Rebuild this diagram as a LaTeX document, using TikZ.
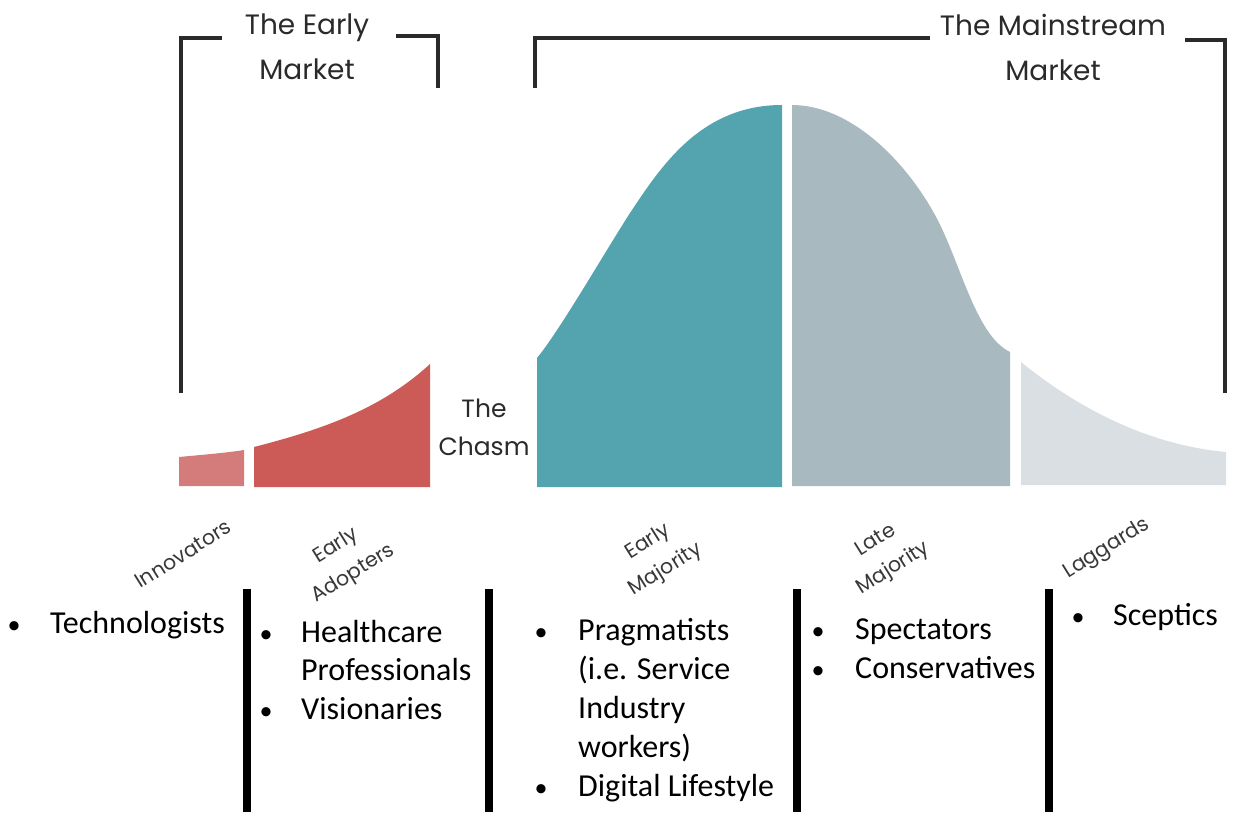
\documentclass[tikz,border=0pt]{standalone}
\usepackage{fontspec}
\setmainfont{Carlito}
\newfontfamily\geo{Poppins}
\definecolor{cInno}{HTML}{D47B7B}
\definecolor{cAdopt}{HTML}{CC5A57}
\definecolor{cEarly}{HTML}{53A4AF}
\definecolor{cLate}{HTML}{A8BABF}
\definecolor{cLag}{HTML}{D9DFE2}
\definecolor{cInk}{HTML}{2A2A2A}
\definecolor{cLbl}{HTML}{383838}
\begin{document}
\begin{tikzpicture}[x=1pt,y=-1pt,
  brk/.style={draw=cInk,line width=4pt},
  sepbar/.style={draw=black,line width=8pt},
  titletext/.style={font=\geo\fontsize{28}{45}\selectfont,text=cInk,align=center,inner sep=0pt},
  chasmtext/.style={font=\geo\fontsize{25}{38}\selectfont,text=cInk,align=center,inner sep=0pt},
  grouplbl/.style={font=\geo\fontsize{20.5}{33}\selectfont,text=cLbl,align=center,rotate=32,inner sep=0pt},
  itemtext/.style={font=\fontsize{32}{38}\selectfont,text=black,anchor=base west,inner sep=0pt},
  bul/.style={font=\fontsize{26}{38}\selectfont,text=black,anchor=base,inner sep=0pt}]
\useasboundingbox (0,0) rectangle (1233,812);
% curve segments
\fill[cInno] (179,486) -- (179,457) .. controls (200,455) and (225,453) .. (244,450) -- (244,486) -- cycle;
\fill[cAdopt] (254,487) -- (254,447) .. controls (320,430) and (380,410) .. (430,364) -- (430,487) -- cycle;
\fill[cEarly] (537,487) -- (537,358) .. controls (560,330) and (603,255) .. (630,213) .. controls (660,168) and (700,105) .. (782,105) -- (782,487) -- cycle;
\fill[cLate] (792,486) -- (792,105) .. controls (850,105) and (905,160) .. (935,215) .. controls (960,260) and (975,335) .. (1010,352) -- (1010,486) -- cycle;
\fill[cLag] (1021,485) -- (1021,362) .. controls (1080,410) and (1150,445) .. (1226,452) -- (1226,485) -- cycle;
% brackets
\draw[brk] (181,393) -- (181,38) -- (222,38);
\draw[brk] (396,36) -- (438,36) -- (438,88);
\draw[brk] (535,88) -- (535,38) -- (930,38);
\draw[brk] (1185,40) -- (1225,40) -- (1225,393);
% titles
\node[titletext] (early) at (307,47) {The Early\\Market};
\node[titletext] (main) at (1053,47) {The Mainstream\\Market};
\node[chasmtext] (chasm) at (484,427) {The\\Chasm};
% group labels
\node[grouplbl] (linno) at (183,554) {Innovators};
\node[grouplbl] (ladopt) at (345,560) {Early\\Adopters};
\node[grouplbl] (lemaj) at (657,556) {Early\\Majority};
\node[grouplbl] (llmaj) at (885,555) {Late\\Majority};
\node[grouplbl] (llag) at (1107,549) {Laggards};
% separator bars
\draw[sepbar] (246.5,589) -- (246.5,812);
\draw[sepbar] (488.5,589) -- (488.5,812);
\draw[sepbar] (797,589) -- (797,812);
\draw[sepbar] (1049,589) -- (1049,812);
% lists
\node[bul] (b1) at (14,633) {•};
\node[itemtext] (t1) at (50,633) {Technologists};
\node[bul] (b2) at (266,642) {•};
\node[itemtext] (t2a) at (301,642) {Healthcare};
\node[itemtext] (t2b) at (301,680) {Professionals};
\node[bul] (b3) at (266,719) {•};
\node[itemtext] (t2c) at (301,719) {Visionaries};
\node[bul] (b4) at (541,640) {•};
\node[itemtext] (t3a) at (578,640) {Pragmatists};
\node[itemtext] (t3b) at (578,679) {(i.e. Service};
\node[itemtext] (t3c) at (578,718) {Industry};
\node[itemtext] (t3d) at (578,757) {workers)};
\node[bul] (b5) at (541,796) {•};
\node[itemtext] (t3e) at (578,796) {Digital Lifestyle};
\node[bul] (b6) at (818,639) {•};
\node[itemtext] (t4a) at (855,639) {Spectators};
\node[bul] (b7) at (818,678) {•};
\node[itemtext] (t4b) at (855,678) {Conservatives};
\node[bul] (b8) at (1078,625) {•};
\node[itemtext] (t5a) at (1113,625) {Sceptics};
\end{tikzpicture}
\end{document}
